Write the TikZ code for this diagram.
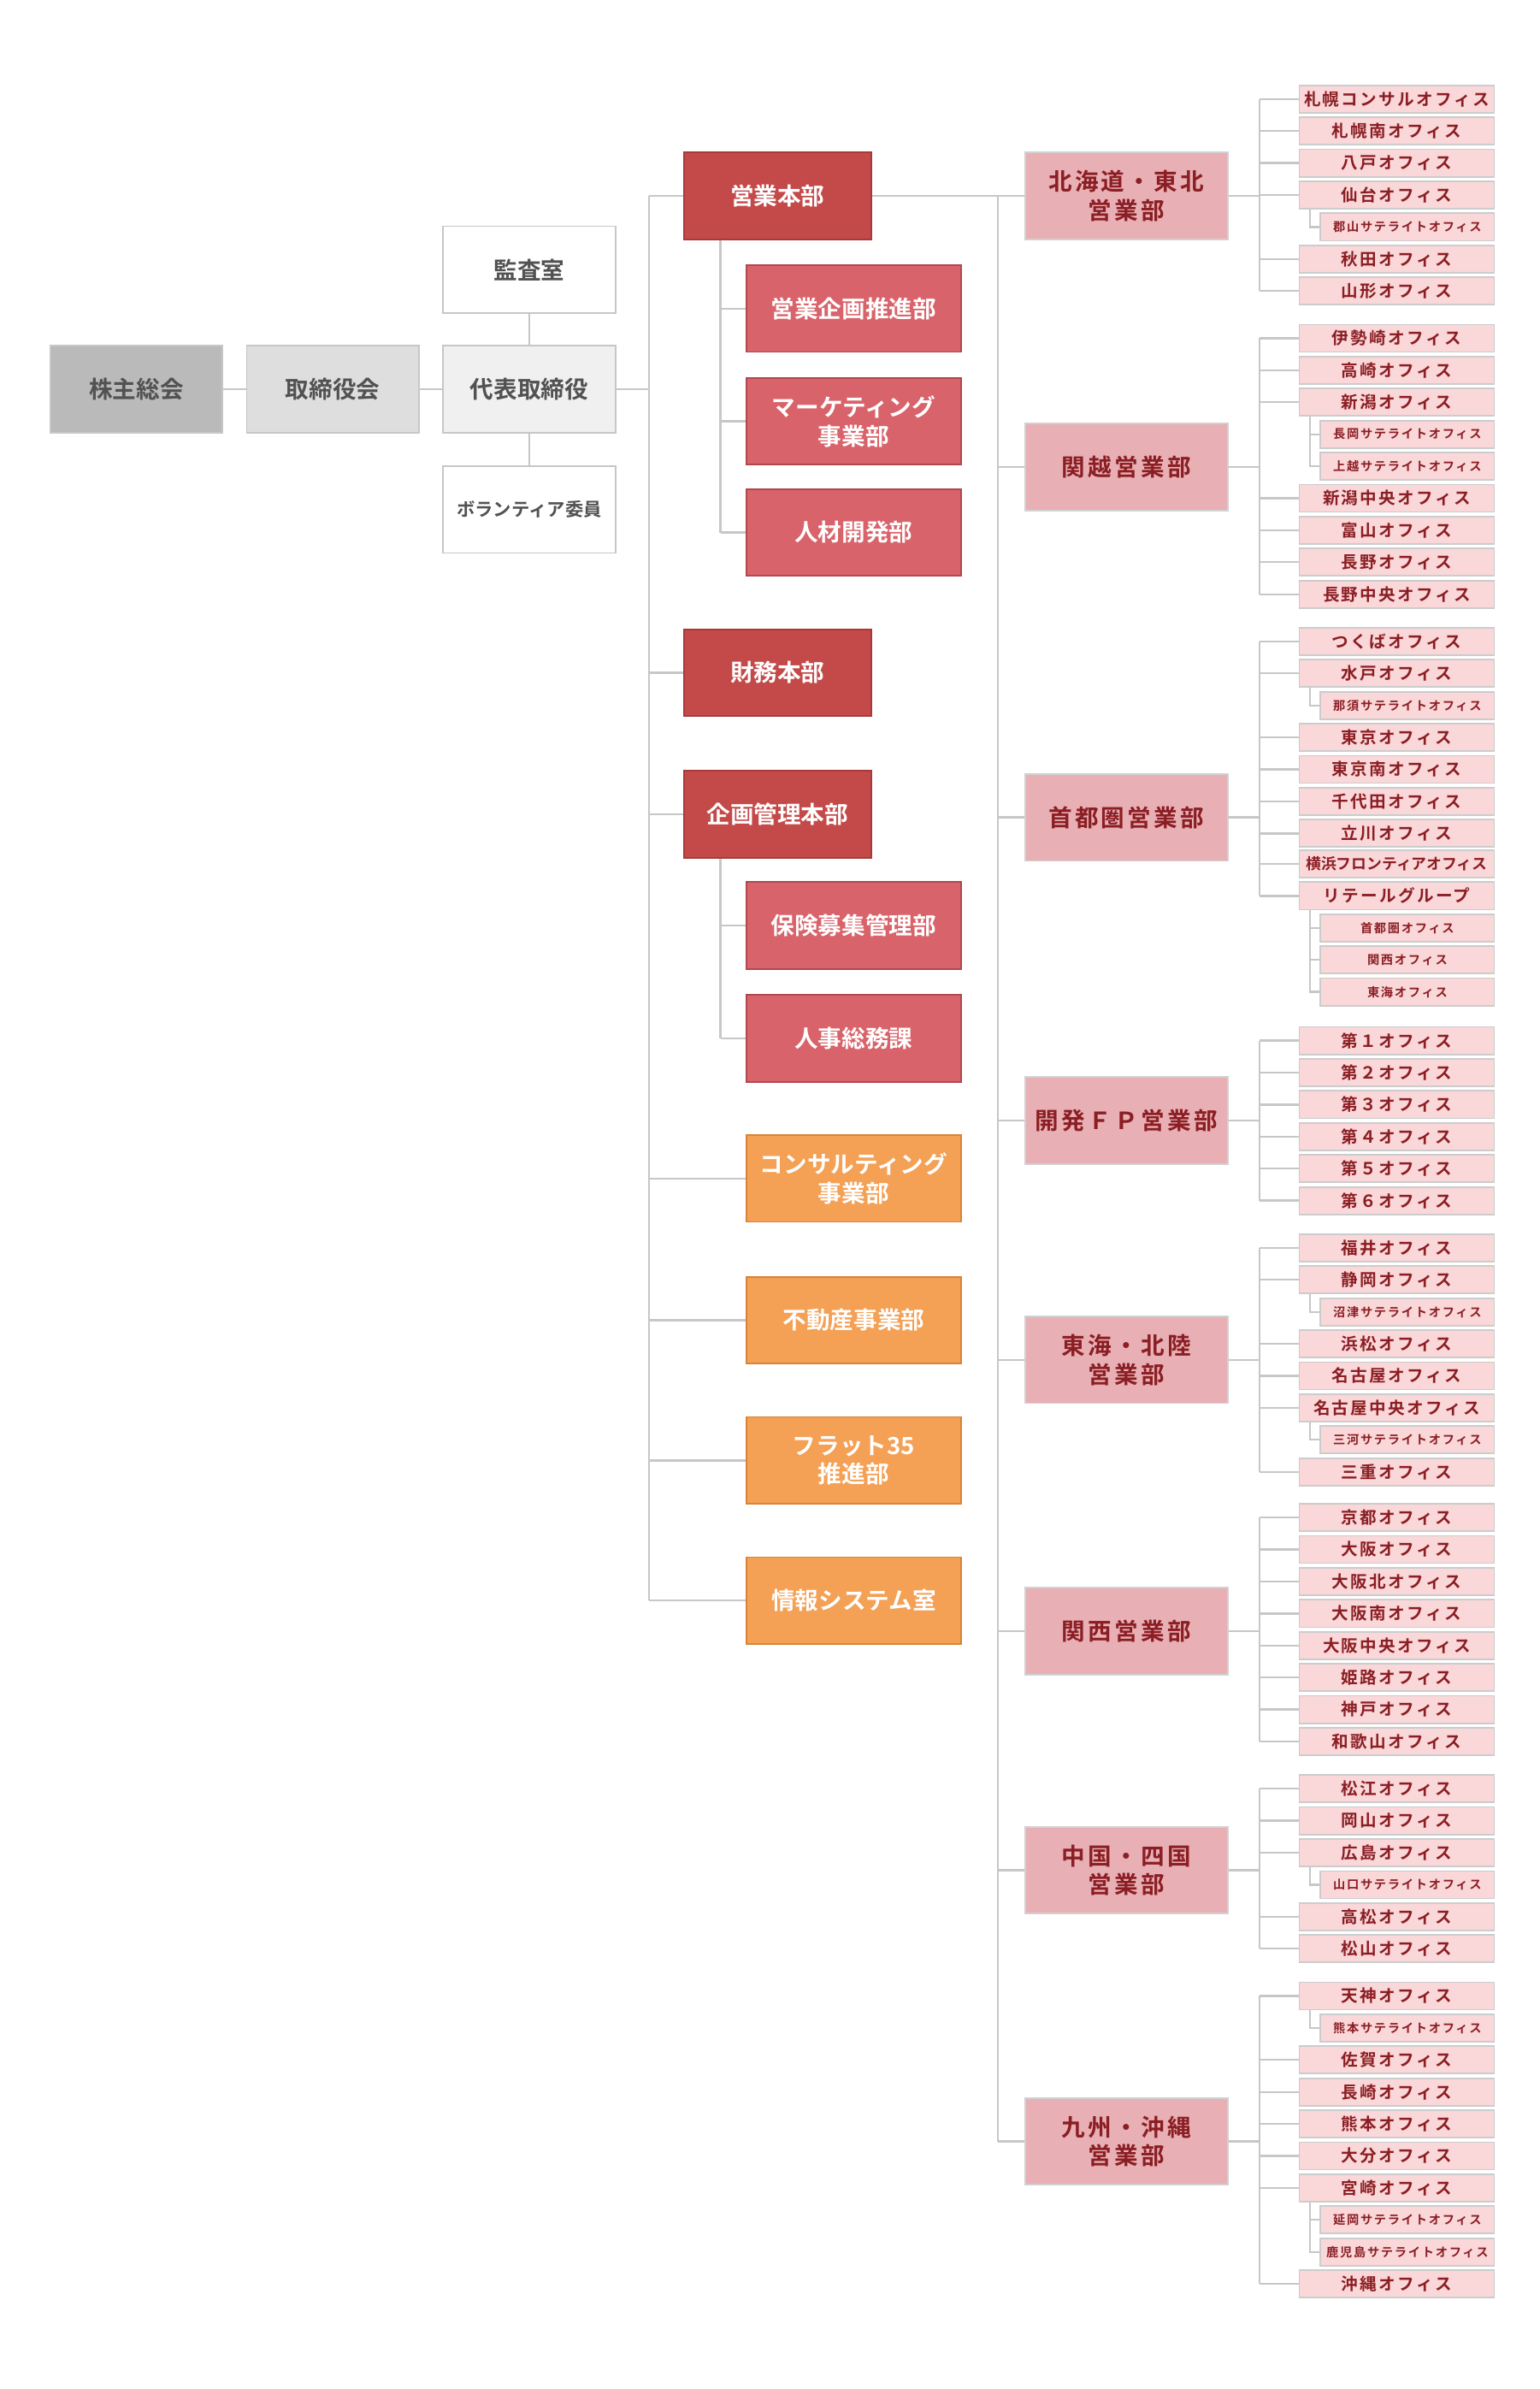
\documentclass[tikz,border=0pt]{standalone}
\usepackage{fontspec}
\setmainfont{Noto Sans CJK JP}[BoldFont={* Bold}]
\newfontfamily\jpb{Noto Sans CJK JP Bold}
\newfontfamily\jpo{Noto Sans CJK JP Bold}[LetterSpace=12]
\begin{document}
\begin{tikzpicture}[x=1pt,y=-1pt,
  ln/.style={draw=black!22,line width=1.3pt},
  base/.style={inner sep=0pt,align=center,line width=1pt},
  top/.style={base,minimum width=113pt,minimum height=57pt,font=\jpb\fontsize{15.5}{19}\selectfont,text=black!68},
  hq/.style={base,fill=hqc,draw=hqb,minimum width=123pt,minimum height=57pt,font=\jpb\fontsize{15.5}{19}\selectfont,text=white},
  sub/.style={base,fill=dsub,draw=dsubb,minimum width=141pt,minimum height=57pt,font=\jpb\fontsize{15.5}{19}\selectfont,text=white},
  org/.style={base,fill=orng,draw=orngb,minimum width=141pt,minimum height=57pt,font=\jpb\fontsize{15.5}{19}\selectfont,text=white},
  reg/.style={base,fill=regc,draw=black!18,minimum width=133pt,minimum height=57pt,font=\jpo\fontsize{15.5}{19}\selectfont,text=dred},
  office/.style={base,fill=offc,draw=black!20,minimum width=128pt,minimum height=18pt,font=\jpo\fontsize{11}{12}\selectfont,text=dred},
  satbox/.style={base,fill=offc,draw=black!20,minimum width=114pt,minimum height=18pt,font=\jpo\fontsize{8}{9}\selectfont,text=dred}]
\definecolor{hqc}{HTML}{C44A4A}\definecolor{hqb}{HTML}{A83A3A}
\definecolor{dsub}{HTML}{D9636A}\definecolor{dsubb}{HTML}{B0484E}
\definecolor{orng}{HTML}{F4A055}\definecolor{orngb}{HTML}{D88436}
\definecolor{regc}{HTML}{E8B0B4}\definecolor{offc}{HTML}{FAD7D8}
\definecolor{dred}{HTML}{8B1E24}
\fill[white] (0,0) rectangle (1011,1568);
\useasboundingbox (0,0) rectangle (1011,1568);
\coordinate (lsp) at (426,0);\coordinate (ssp) at (473,0);
\coordinate (msp) at (655,0);\coordinate (sp) at (827,0);\coordinate (satsp) at (860,0);
% top chain
\node[top,fill=black!27,draw=black!22] (kabu) at (89.5,255.5) {株主総会};
\node[top,fill=black!13,draw=black!22] (tori) at (218.5,255.5) {取締役会};
\node[top,fill=black!6,draw=black!22] (daihyo) at (347.5,255.5) {代表取締役};
\node[top,fill=white,draw=black!22] (kansa) at (347.5,177) {監査室};
\node[top,fill=white,draw=black!22,font=\jpb\fontsize{12}{14}\selectfont] (vol) at (347.5,334.5) {ボランティア委員};
\draw[ln] (kabu.east) -- (tori.west); \draw[ln] (tori.east) -- (daihyo.west);
\draw[ln] (kansa.south) -- (daihyo.north); \draw[ln] (daihyo.south) -- (vol.north);
% HQ column
\node[hq] (eigyo) at (510.5,128.5) {営業本部};
\node[sub] (kikaku) at (560.5,202.5) {営業企画推進部};
\node[sub] (mkt) at (560.5,276.5) {マーケティング\\事業部};
\node[sub] (jinzai) at (560.5,349.5) {人材開発部};
\node[hq] (zaimu) at (510.5,441.5) {財務本部};
\node[hq] (kanri) at (510.5,534.5) {企画管理本部};
\node[sub] (hoken) at (560.5,607.5) {保険募集管理部};
\node[sub] (jinji) at (560.5,681.5) {人事総務課};
\node[org] (consul) at (560.5,773.5) {コンサルティング\\事業部};
\node[org] (fudo) at (560.5,866.5) {不動産事業部};
\node[org] (flat) at (560.5,958.5) {フラット35\\推進部};
\node[org] (joho) at (560.5,1050.5) {情報システム室};
\draw[ln] (daihyo.east) -- (daihyo.east -| lsp);
\draw[ln] (eigyo.west -| lsp) -- (joho.west -| lsp);
\foreach \n in {eigyo,zaimu,kanri,consul,fudo,flat,joho} \draw[ln] (\n.west -| lsp) -- (\n.west);
\draw[ln] (eigyo.south -| ssp) -- (jinzai.west -| ssp);
\foreach \n in {kikaku,mkt,jinzai} \draw[ln] (\n.west -| ssp) -- (\n.west);
\draw[ln] (kanri.south -| ssp) -- (jinji.west -| ssp);
\foreach \n in {hoken,jinji} \draw[ln] (\n.west -| ssp) -- (\n.west);
% regions
\node[reg] (r1) at (739.5,128.5) {北海道・東北\\営業部};
\node[reg] (r2) at (739.5,306.5) {関越営業部};
\node[reg] (r3) at (739.5,536.5) {首都圏営業部};
\node[reg] (r4) at (739.5,735.5) {開発ＦＰ営業部};
\node[reg] (r5) at (739.5,892.5) {東海・北陸\\営業部};
\node[reg] (r6) at (739.5,1070.5) {関西営業部};
\node[reg] (r7) at (739.5,1227.5) {中国・四国\\営業部};
\node[reg] (r8) at (739.5,1405.5) {九州・沖縄\\営業部};
\draw[ln] (eigyo.east) -- (eigyo.east -| msp);
\draw[ln] (r1.west -| msp) -- (r8.west -| msp);
\foreach \n in {r1,r2,r3,r4,r5,r6,r7,r8} {\draw[ln] (\n.west -| msp) -- (\n.west); \draw[ln] (\n.east) -- (\n.east -| sp);}
\newcommand\ofc[3]{\node[office] (#1) at (917,{#2+9}) {#3}; \draw[ln] (#1.west -| sp) -- (#1.west);}
\newcommand\sat[4]{\node[satbox] (#1) at (924,{#2+9}) {#3}; \draw[ln] (#4.south -| satsp) |- (#1.west);}
\newcommand\grp[2]{\draw[ln] (#1.west -| sp) -- (#2.west -| sp);}
% group 1
\ofc{a1}{56}{札幌コンサルオフィス}\ofc{a2}{77}{札幌南オフィス}\ofc{a3}{98}{八戸オフィス}
\ofc{a4}{119}{仙台オフィス}\sat{a5}{140}{郡山サテライトオフィス}{a4}\ofc{a6}{161}{秋田オフィス}\ofc{a7}{182}{山形オフィス}
\grp{a1}{a7}
% group 2
\ofc{b1}{213}{伊勢崎オフィス}\ofc{b2}{234}{高崎オフィス}\ofc{b3}{255}{新潟オフィス}
\sat{b4}{276}{長岡サテライトオフィス}{b3}\sat{b5}{297}{上越サテライトオフィス}{b3}
\ofc{b6}{318}{新潟中央オフィス}\ofc{b7}{339}{富山オフィス}\ofc{b8}{360}{長野オフィス}\ofc{b9}{381}{長野中央オフィス}
\grp{b1}{b9}
% group 3
\ofc{c1}{412}{つくばオフィス}\ofc{c2}{433}{水戸オフィス}\sat{c3}{454}{那須サテライトオフィス}{c2}
\ofc{c4}{475}{東京オフィス}\ofc{c5}{496}{東京南オフィス}\ofc{c6}{517}{千代田オフィス}\ofc{c7}{538}{立川オフィス}
\node[office,font=\jpb\fontsize{10}{11}\selectfont] (c8) at (917,567) {横浜フロンティアオフィス}; \draw[ln] (c8.west -| sp) -- (c8.west);
\ofc{c9}{579}{リテールグループ}
\sat{c10}{600}{首都圏オフィス}{c9}\sat{c11}{621}{関西オフィス}{c9}\sat{c12}{642}{東海オフィス}{c9}
\grp{c1}{c9}
% group 4
\ofc{d1}{674}{第１オフィス}\ofc{d2}{695}{第２オフィス}\ofc{d3}{716}{第３オフィス}
\ofc{d4}{737}{第４オフィス}\ofc{d5}{758}{第５オフィス}\ofc{d6}{779}{第６オフィス}
\grp{d1}{d6}
% group 5
\ofc{e1}{810}{福井オフィス}\ofc{e2}{831}{静岡オフィス}\sat{e3}{852}{沼津サテライトオフィス}{e2}
\ofc{e4}{873}{浜松オフィス}\ofc{e5}{894}{名古屋オフィス}\ofc{e6}{915}{名古屋中央オフィス}
\sat{e7}{936}{三河サテライトオフィス}{e6}\ofc{e8}{957}{三重オフィス}
\grp{e1}{e8}
% group 6
\ofc{f1}{987}{京都オフィス}\ofc{f2}{1008}{大阪オフィス}\ofc{f3}{1029}{大阪北オフィス}\ofc{f4}{1050}{大阪南オフィス}
\ofc{f5}{1071}{大阪中央オフィス}\ofc{f6}{1092}{姫路オフィス}\ofc{f7}{1113}{神戸オフィス}\ofc{f8}{1134}{和歌山オフィス}
\grp{f1}{f8}
% group 7
\ofc{g1}{1165}{松江オフィス}\ofc{g2}{1186}{岡山オフィス}\ofc{g3}{1207}{広島オフィス}
\sat{g4}{1228}{山口サテライトオフィス}{g3}\ofc{g5}{1249}{高松オフィス}\ofc{g6}{1270}{松山オフィス}
\grp{g1}{g6}
% group 8
\ofc{h1}{1301}{天神オフィス}\sat{h2}{1322}{熊本サテライトオフィス}{h1}\ofc{h3}{1343}{佐賀オフィス}
\ofc{h4}{1364}{長崎オフィス}\ofc{h5}{1385}{熊本オフィス}\ofc{h6}{1406}{大分オフィス}\ofc{h7}{1427}{宮崎オフィス}
\sat{h8}{1448}{延岡サテライトオフィス}{h7}\sat{h9}{1469}{鹿児島サテライトオフィス}{h7}\ofc{h10}{1490}{沖縄オフィス}
\grp{h1}{h10}
\end{tikzpicture}
\end{document}
